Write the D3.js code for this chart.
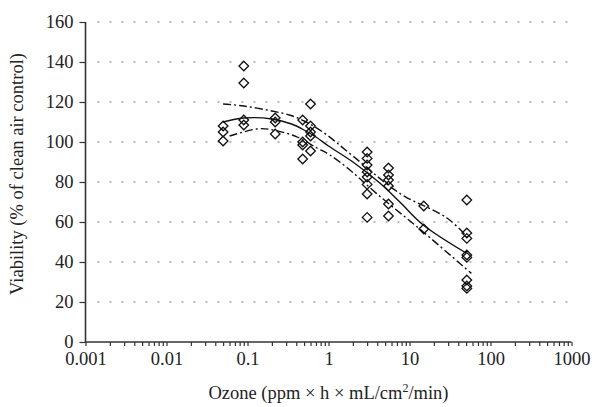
<!DOCTYPE html>
<html>
<head>
<meta charset="utf-8">
<title>Viability vs ozone</title>
<style>
  body { margin:0; background:#fff; }
  text { font-family:"Liberation Serif", "DejaVu Serif", serif; fill:#222; }
</style>
</head>
<body>
<script src="https://d3js.org/d3.v7.min.js"></script>
<script type="text/javascript">
    // dose groups (x) and the viability readings at each dose
    var doses = [0.05, 0.09, 0.22, 0.48, 0.6, 3, 5.5, 15, 51];
    var viability = [
        [108, 105, 100.5],
        [138, 129.5, 111, 108.5],
        [112, 110, 104],
        [111, 100, 98.5, 91.5],
        [119, 108, 105, 103, 95.5],
        [95, 91.8, 88.5, 85, 82.5, 78.8, 74, 62.3],
        [87, 83.5, 81, 78, 69, 63],
        [68, 56.5],
        [71, 54.5, 51.8, 43.5, 42.3, 31, 28, 26.8]
    ];

    // fitted curve and its confidence band
    var fitX = [0.05, 0.09, 0.2, 0.35, 0.5, 0.7, 1, 2, 4.3, 7.6, 14.8, 50];
    var fitY = [110, 112, 111.5, 109, 106, 102.5, 98, 90, 79.5, 70, 58.5, 44.5];
    var upperX = [0.05, 0.09, 0.2, 0.33, 0.5, 0.85, 2, 7.6, 29, 56];
    var upperY = [119, 118, 115.5, 113.5, 110.5, 105, 93, 74.3, 62, 51];
    var lowerX = [0.06, 0.13, 0.19, 0.4, 0.72, 1.04, 1.84, 3.9, 14.8, 58];
    var lowerY = [103, 106.5, 106.3, 102.7, 97, 93.5, 86, 74.3, 55, 34.3];

    var xTicks = [0.001, 0.01, 0.1, 1, 10, 100, 1000];
    var xTickLabels = ["0.001", "0.01", "0.1", "1", "10", "100", "1000"];
    var yTicks = [0, 20, 40, 60, 80, 100, 120, 140, 160];

    var width = 594, height = 407;
    // plot box (window.top is reserved, so prefixed names)
    var plotLeft = 85.5, plotRight = 571.5, plotTop = 22, plotBottom = 342;
    var fontSize = "18.5px";

    var svg = d3.select("body")
            .append("svg")
            .attr("width", width)
            .attr("height", height);

    var x = d3.scaleLog().domain([0.001, 1000]).range([plotLeft, plotRight]);
    var y = d3.scaleLinear().domain([0, 160]).range([plotBottom, plotTop]);

    // dotted horizontal grid
    svg.selectAll("line.grid")
            .data(yTicks.filter(function(d){ return d > 0; }))
            .enter()
            .append("line")
            .attr("class", "grid")
            .attr("x1", plotLeft + 12)
            .attr("x2", plotRight)
            .attr("y1", function(d){ return y(d); })
            .attr("y2", function(d){ return y(d); })
            .attr("stroke", "#777")
            .attr("stroke-width", 1.2)
            .attr("stroke-dasharray", "2,10");

    // y axis
    var yAxis = d3.axisLeft(y).tickValues(yTicks).tickSize(6).tickPadding(6);
    var gy = svg.append("g")
            .attr("transform", "translate(" + plotLeft + ",0)")
            .call(yAxis);
    gy.selectAll("text").style("font-size", fontSize).attr("fill", "#222");

    // x axis, major labels plus minor ticks in each decade
    var minor = [];
    for (var e = -3; e < 3; e++) {
        for (var m = 1; m <= 9; m++) minor.push(m * Math.pow(10, e));
    }
    minor.push(1000);
    var xAxis = d3.axisBottom(x).tickValues(minor).tickSize(4).tickPadding(6)
            .tickFormat(function(d){
                var i = xTicks.findIndex(function(t){ return Math.abs(t - d) / t < 1e-6; });
                return i >= 0 ? xTickLabels[i] : "";
            });
    var gx = svg.append("g")
            .attr("transform", "translate(0," + plotBottom + ")")
            .call(xAxis);
    gx.selectAll("text").style("font-size", fontSize).attr("fill", "#222");

    svg.selectAll(".domain").attr("stroke", "#333").attr("stroke-width", 1.6);
    svg.selectAll(".tick line").attr("stroke", "#333").attr("stroke-width", 1.2);
    gy.select(".domain").attr("d", "M0," + plotTop + "V" + plotBottom);
    gx.select(".domain").attr("d", "M" + plotLeft + ",0H" + plotRight);

    // curves
    var line = d3.line()
            .x(function(d){ return x(d[0]); })
            .y(function(d){ return y(d[1]); })
            .curve(d3.curveCatmullRom.alpha(0.5));

    var curves = [
        {xs: upperX, ys: upperY, dash: "8,3,2,3"},
        {xs: lowerX, ys: lowerY, dash: "8,3,2,3"},
        {xs: fitX, ys: fitY, dash: null}
    ];
    svg.selectAll("path.curve")
            .data(curves)
            .enter()
            .append("path")
            .attr("class", "curve")
            .attr("d", function(c){
                return line(c.xs.map(function(v, i){ return [v, c.ys[i]]; }));
            })
            .attr("fill", "none")
            .attr("stroke", "#111")
            .attr("stroke-width", 1.4)
            .attr("stroke-dasharray", function(c){ return c.dash; });

    // diamonds
    var points = [];
    doses.forEach(function(d, i){
        viability[i].forEach(function(v){ points.push([d, v]); });
    });
    var r = 4.8;
    svg.selectAll("path.pt")
            .data(points)
            .enter()
            .append("path")
            .attr("class", "pt")
            .attr("transform", function(d){ return "translate(" + x(d[0]) + "," + y(d[1]) + ")"; })
            .attr("d", "M0," + (-r) + "L" + r + ",0L0," + r + "L" + (-r) + ",0Z")
            .attr("fill", "none")
            .attr("stroke", "#111")
            .attr("stroke-width", 1.3);

    // axis titles
    var xt = svg.append("text")
            .attr("x", (plotLeft + plotRight) / 2)
            .attr("y", 399)
            .attr("text-anchor", "middle")
            .style("font-size", fontSize);
    xt.append("tspan").text("Ozone (ppm \u00d7 h \u00d7 mL/cm");
    xt.append("tspan").attr("dy", -7).style("font-size", "12px").text("2");
    xt.append("tspan").attr("dy", 7).text("/min)");

    svg.append("text")
            .attr("transform", "translate(23,174) rotate(-90)")
            .attr("text-anchor", "middle")
            .style("font-size", fontSize)
            .text("Viability (% of clean air control)");
</script>
</body>
</html>
